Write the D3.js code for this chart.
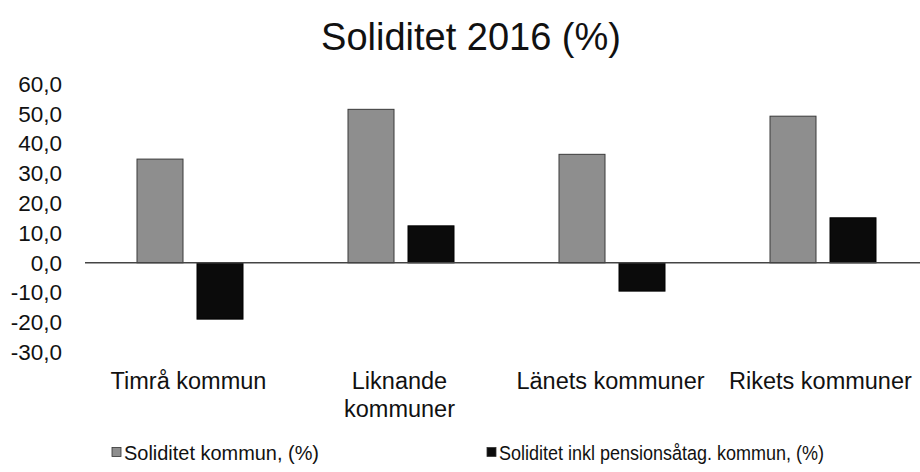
<!DOCTYPE html>
<html>
<head>
<meta charset="utf-8">
<script src="https://cdn.jsdelivr.net/npm/d3@7"></script>
<style>
  html, body { margin: 0; padding: 0; background: #fff; }
  svg { display: block; font-family: "Liberation Sans", Arial, sans-serif; }
</style>
</head>
<body>
<svg id="chart" width="920" height="472"></svg>
<script>
const title = "Soliditet 2016 (%)";
const categories = ["Timrå kommun", "Liknande kommuner", "Länets kommuner", "Rikets kommuner"];
const categoryLines = [["Timrå kommun"], ["Liknande", "kommuner"], ["Länets kommuner"], ["Rikets kommuner"]];
const seriesNames = ["Soliditet kommun, (%)", "Soliditet inkl pensionsåtag. kommun, (%)"];
const soliditet = [34.8, 51.5, 36.4, 49.2];
const soliditetInklPension = [-18.9, 12.4, -9.5, 15.1];
const yTicks = [60, 50, 40, 30, 20, 10, 0, -10, -20, -30];
const seriesColors = ["#8e8e8e", "#0b0b0b"];

const svg = d3.select("#chart");

const x = d3.scaleBand().domain(categories).range([85, 929]).paddingInner(0).paddingOuter(0);
const xSub = d3.scaleBand().domain([0, 1]).range([52, 158]).paddingInner(14 / 60).paddingOuter(0);
const y = d3.scaleLinear().domain([-30, 60]).range([352.2, 84]);

// title
svg.append("text")
  .attr("x", 471).attr("y", 37)
  .attr("text-anchor", "middle").attr("dominant-baseline", "central")
  .attr("font-size", 38).attr("fill", "#111")
  .text(title);

// y axis labels (no axis line)
const fmt = v => d3.format(".1f")(v).replace(".", ",").replace("−", "-");
const yAxis = d3.axisLeft(y).tickValues(yTicks).tickSize(0).tickPadding(0).tickFormat(fmt);
const gy = svg.append("g").attr("transform", "translate(62,0)").call(yAxis);
gy.select(".domain").remove();
gy.selectAll("text").attr("font-size", 22.5).attr("fill", "#111")
  .attr("font-family", "'Liberation Sans', Arial, sans-serif");

// bars
const data = [];
categories.forEach((c, i) => {
  data.push({ c, s: 0, v: soliditet[i] });
  data.push({ c, s: 1, v: soliditetInklPension[i] });
});
svg.append("g").selectAll("rect").data(data).join("rect")
  .attr("x", d => x(d.c) + xSub(d.s))
  .attr("width", xSub.bandwidth())
  .attr("y", d => y(Math.max(0, d.v)))
  .attr("height", d => Math.abs(y(d.v) - y(0)))
  .attr("fill", d => seriesColors[d.s])
  .attr("stroke", d => d.s === 0 ? "#3a3a3a" : "#000")
  .attr("stroke-width", 1);

// zero line
svg.append("line")
  .attr("x1", 85).attr("x2", 920)
  .attr("y1", y(0)).attr("y2", y(0))
  .attr("stroke", "#444").attr("stroke-width", 1.5);

// category labels
const catG = svg.append("g");
categories.forEach((c, i) => {
  const t = catG.append("text")
    .attr("text-anchor", "middle")
    .attr("font-size", 23.5).attr("fill", "#111");
  categoryLines[i].forEach((ln, j) => {
    t.append("tspan").attr("x", x(c) + x.bandwidth() / 2 - 2).attr("y", 389 + j * 28).text(ln);
  });
  const bb = t.node().getBBox();
  if (bb.x + bb.width > 912) {
    const shift = bb.x + bb.width - 912;
    t.selectAll("tspan").attr("x", x(c) + x.bandwidth() / 2 - 2 - shift);
  }
});

// legend
const legendX = [112, 487];
const legendW = [195, 325];
seriesNames.forEach((n, i) => {
  const g = svg.append("g").attr("transform", `translate(${legendX[i]},452)`);
  g.append("rect").attr("x", 0).attr("y", -4.5).attr("width", 9).attr("height", 9)
    .attr("fill", seriesColors[i]).attr("stroke", "#333").attr("stroke-width", 0.8);
  g.append("text").attr("x", 12).attr("y", 0).attr("dominant-baseline", "central")
    .attr("font-size", 20.5).attr("fill", "#111")
    .attr("textLength", legendW[i]).attr("lengthAdjust", "spacingAndGlyphs")
    .text(n);
});
</script>
</body>
</html>
